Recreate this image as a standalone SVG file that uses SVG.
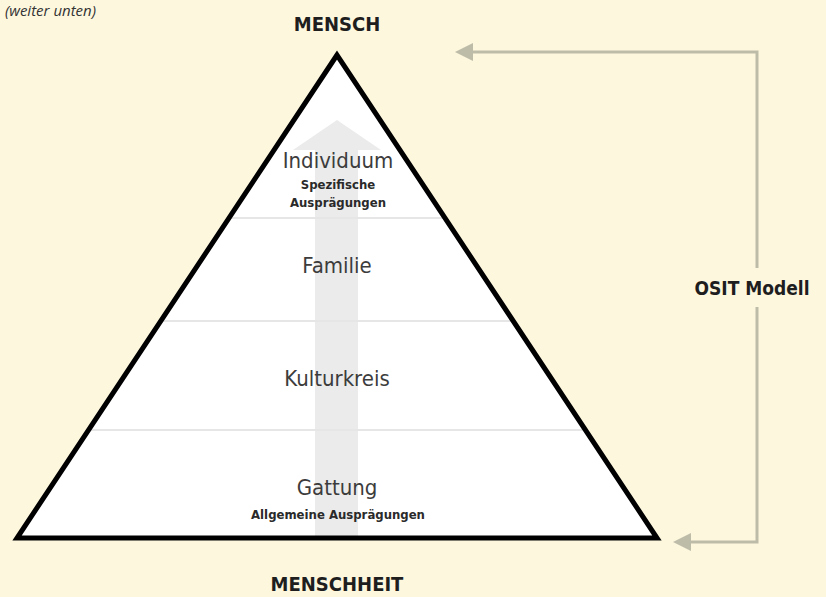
<svg xmlns="http://www.w3.org/2000/svg" width="826" height="597" viewBox="0 0 826 597">
<style>
.t{font-family:"DejaVu Sans Condensed","DejaVu Sans","Liberation Sans",sans-serif;fill:#3c3c3c;text-anchor:middle;font-size:22px}
.h{font-family:"DejaVu Sans Condensed","DejaVu Sans","Liberation Sans",sans-serif;font-weight:bold;fill:#1e1e1e;text-anchor:middle}
.s{font-family:"DejaVu Sans Condensed","DejaVu Sans","Liberation Sans",sans-serif;font-weight:bold;fill:#2a2a2a;text-anchor:middle;font-size:13px}
.div{stroke:#e6e6e6;stroke-width:2}
.br{fill:none;stroke:#bdbca8;stroke-width:3}
</style>
<defs>
<marker id="ah" markerWidth="6" markerHeight="6" refX="1" refY="3" orient="auto" markerUnits="strokeWidth"><path d="M0,3 L6,0 L6,6 Z" transform="rotate(180 3 3)" fill="#bdbca8"/></marker>
</defs>
<rect width="826" height="597" fill="#fdf7de"/>
<text x="96" y="16" font-family="'Open Sans','Liberation Sans',sans-serif" font-style="italic" font-size="15" fill="#333" text-anchor="end">(weiter unten)</text>
<g id="pyramid">
<polygon points="337,55 17,538 657,538" fill="#fff"/>
<path d="M315,538 V150 H293 L337,120 L381,150 H358 V538 Z" fill="#ebebeb"/>
<line class="div" x1="230" y1="218" x2="444" y2="218"/>
<line class="div" x1="162" y1="321" x2="512" y2="321"/>
<line class="div" x1="89" y1="430" x2="585" y2="430"/>
<polygon points="337,55 17,538 657,538" fill="none" stroke="#000" stroke-width="5" stroke-linejoin="miter"/>
</g>
<g id="mensch"><text class="h" x="337" y="31" font-size="20">MENSCH</text></g>
<g id="individuum">
<text class="t" x="338" y="168">Individuum</text>
<text class="s" x="338" y="189">Spezifische</text>
<text class="s" x="338" y="207">Ausprägungen</text>
</g>
<g id="familie"><text class="t" x="337" y="273">Familie</text></g>
<g id="kulturkreis"><text class="t" x="337" y="386">Kulturkreis</text></g>
<g id="gattung">
<text class="t" x="337" y="495">Gattung</text>
<text class="s" x="338" y="519">Allgemeine Ausprägungen</text>
</g>
<g id="menschheit"><text class="h" x="337" y="591" font-size="20">MENSCHHEIT</text></g>
<g id="osit"><text class="h" x="752" y="295" font-size="19">OSIT Modell</text></g>
<g id="connectors">
<path class="br" d="M757,268 V52 H470" marker-end="url(#ah)"/>
<path class="br" d="M757,307 V542 H688" marker-end="url(#ah)"/>
</g>
</svg>
